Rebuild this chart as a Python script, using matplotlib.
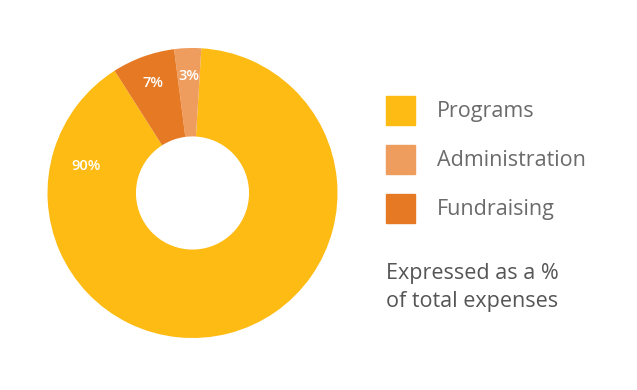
import numpy as np
import matplotlib.pyplot as plt
from matplotlib.patches import Rectangle

labels = ['Programs', 'Administration', 'Fundraising']
values = [90, 3, 7]
colors = ['#FDBB13', '#EE9D5E', '#E67A24']
pct_labels = ['90%', '3%', '7%']

plt.rcParams['font.family'] = ['Open Sans', 'DejaVu Sans']

fig = plt.figure(figsize=(6.37, 3.9), dpi=100)
W, H = 637, 390
cx, cy, R = 192.5, 193, 145
ax = fig.add_axes([(cx - R) / W, (H - cy - R) / H, 2 * R / W, 2 * R / H])
start = 122.5
wedges, _ = ax.pie(values, colors=colors, startangle=start, counterclock=True,
                   radius=1, wedgeprops=dict(width=0.61, linewidth=0))
ax.set_xlim(-1, 1)
ax.set_ylim(-1, 1)
ax.set_aspect('equal')
ax.axis('off')

# percentage labels
for i, w in enumerate(wedges):
    mid = (w.theta1 + w.theta2) / 2
    r = 0.81
    if labels[i] == 'Programs':
        mid, r = 166, 0.76
    ax.text(r * np.cos(np.radians(mid)), r * np.sin(np.radians(mid)), pct_labels[i],
            ha='center', va='center', color='white', fontsize=10.5, fontweight='semibold')

# legend
lax = fig.add_axes([0, 0, 1, 1])
lax.set_xlim(0, W)
lax.set_ylim(H, 0)
lax.axis('off')
for i, lab in enumerate(labels):
    y0 = 96 + i * 49
    lax.add_patch(Rectangle((386, y0), 29, 29, color=colors[i]))
    lax.text(437, y0 + 15.5, lab, ha='left', va='center', color='#6b6b6b', fontsize=15.5)

lax.text(386, 274, 'Expressed as a %', ha='left', va='center', color='#555555', fontsize=15.5)
lax.text(386, 302, 'of total expenses', ha='left', va='center', color='#555555', fontsize=15.5)

fig.savefig('out.png', dpi=100)
